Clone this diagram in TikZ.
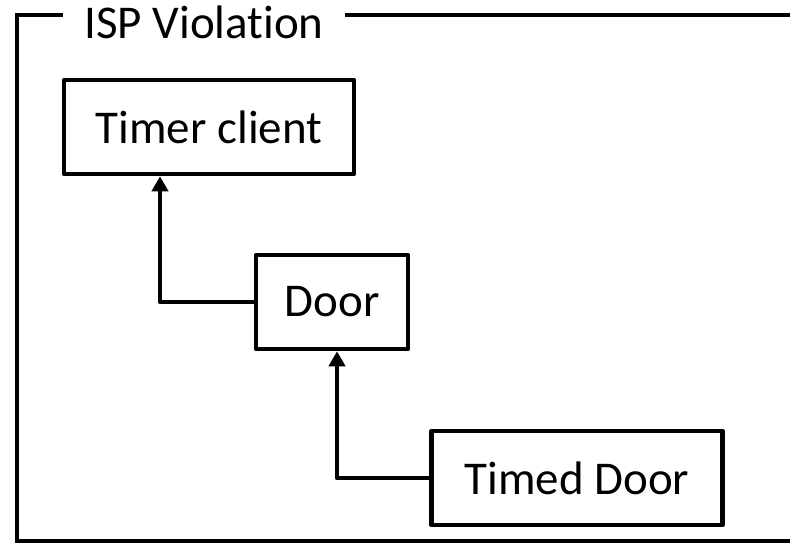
\documentclass[tikz,border=0pt]{standalone}
\usepackage{fontspec}
\setmainfont{Carlito}[Ligatures={NoCommon}]
\usetikzlibrary{arrows.meta,positioning,calc}
\definecolor{ink}{HTML}{000000}

\tikzset{
  classbox/.style={
    draw=ink,
    line width=4.5pt,
    line join=round,
    text=ink,
    minimum height=94pt,
    inner xsep=20pt,
    font=\fontsize{47}{56}\selectfont
  },
  inherits/.style={
    draw=ink,
    line width=4.5pt,
    line join=round,
    -{Triangle[length=15pt,width=16pt]}
  }
}

\begin{document}
\begin{tikzpicture}[x=1pt,y=-1pt]
        \useasboundingbox (0,0) rectangle (790,543);
        \clip (0,0) rectangle (790,543);
        % outer frame, runs off to the right
        \draw[ink, line width=4.5pt] (17,15) rectangle (820,541);
        \node[
          fill=white,
          text=ink,
          inner xsep=21pt,
          inner ysep=2pt,
          font=\fontsize{47}{56}\selectfont
        ] (title) at (204,22) {ISP Violation};

        \node[classbox, minimum width=290pt] (timer) at (209,127) {Timer client};
        \node[classbox, minimum width=152pt] (door) at (332,302) {Door};
        \node[classbox, minimum width=291pt] (timed) at (577,478) {Timed Door};

        \draw[inherits] (door.west) -| ([xshift=-49pt]timer.south);
        \draw[inherits] (timed.west) -| ([xshift=5pt]door.south);
      \end{tikzpicture}
\end{document}
